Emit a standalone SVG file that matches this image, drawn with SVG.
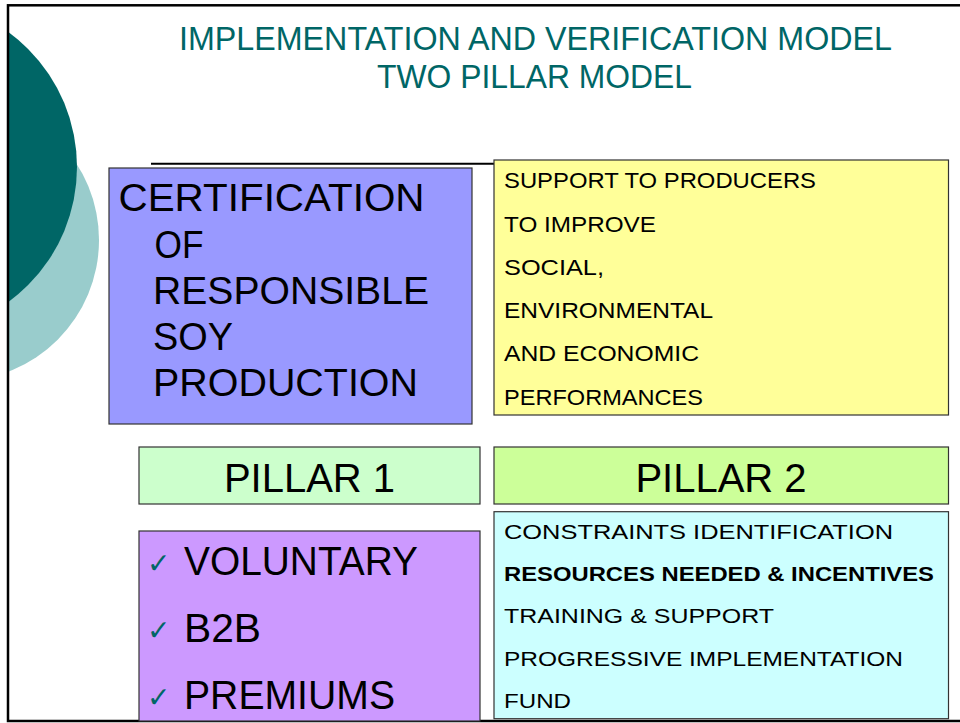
<svg xmlns="http://www.w3.org/2000/svg" width="960" height="723" viewBox="0 0 960 723">
  <style>
    .title { font-family: "Liberation Sans", Arial, sans-serif; font-size: 32.5px; fill: #006666; }
    .box { stroke: #333333; stroke-width: 1.2; }
    .big { font-family: "Liberation Sans", Arial, sans-serif; font-size: 39px; fill: #000000; }
    .pill { font-family: "Liberation Sans", Arial, sans-serif; font-size: 40px; fill: #000000; }
    .small { font-family: "Liberation Sans", Arial, sans-serif; font-size: 21.5px; fill: #000000; }
    .bold { font-weight: bold; }
    .check { font-family: "DejaVu Sans", sans-serif; font-size: 28px; fill: #006666; }
  </style>
  <defs>
    <clipPath id="slideArea">
      <rect x="9" y="6" width="960" height="714"/>
    </clipPath>
  </defs>

  <rect x="0" y="0" width="960" height="723" fill="#ffffff"/>

  <!-- decorative circles at the left edge -->
  <g clip-path="url(#slideArea)">
    <circle cx="-42" cy="240" r="141" fill="#99CCCC"/>
    <circle cx="-90" cy="167" r="167" fill="#006666"/>
  </g>

  <!-- slide frame -->
  <rect x="8" y="5.3" width="1000" height="715.7" fill="none" stroke="#000000" stroke-width="2.5"/>

  <!-- title -->
  <g id="title">
    <text class="title" x="179" y="49.5" textLength="713" lengthAdjust="spacingAndGlyphs">IMPLEMENTATION AND VERIFICATION MODEL</text>
    <text class="title" x="377" y="88" textLength="315" lengthAdjust="spacingAndGlyphs">TWO PILLAR MODEL</text>
  </g>

  <g id="connectors">
    <line x1="151" y1="163.8" x2="494" y2="163.8" stroke="#000000" stroke-width="2"/>
  </g>

  <!-- certification block -->
  <g id="certification">
    <rect class="box" x="109" y="168" width="363" height="256" fill="#9999FF"/>
    <text class="big" x="118.5" y="211" textLength="306" lengthAdjust="spacingAndGlyphs">CERTIFICATION</text>
    <text class="big" x="154.5" y="258" textLength="49" lengthAdjust="spacingAndGlyphs">OF</text>
    <text class="big" x="153" y="303.5" textLength="276" lengthAdjust="spacingAndGlyphs">RESPONSIBLE</text>
    <text class="big" x="153" y="350" textLength="80" lengthAdjust="spacingAndGlyphs">SOY</text>
    <text class="big" x="153" y="396" textLength="265" lengthAdjust="spacingAndGlyphs">PRODUCTION</text>
  </g>

  <!-- producer support block -->
  <g id="support">
    <rect class="box" x="494" y="160" width="454.5" height="255" fill="#FFFF99"/>
    <text class="small" x="504" y="188" textLength="312" lengthAdjust="spacingAndGlyphs">SUPPORT TO PRODUCERS</text>
    <text class="small" x="504" y="231.5" textLength="152" lengthAdjust="spacingAndGlyphs">TO IMPROVE</text>
    <text class="small" x="504" y="275" textLength="100" lengthAdjust="spacingAndGlyphs">SOCIAL,</text>
    <text class="small" x="504" y="318" textLength="209" lengthAdjust="spacingAndGlyphs">ENVIRONMENTAL</text>
    <text class="small" x="504" y="361" textLength="195" lengthAdjust="spacingAndGlyphs">AND ECONOMIC</text>
    <text class="small" x="504" y="404.5" textLength="199" lengthAdjust="spacingAndGlyphs">PERFORMANCES</text>
  </g>

  <!-- pillar headers -->
  <g id="pillar1">
    <rect class="box" x="139" y="447" width="341" height="57" fill="#CCFFCC"/>
    <text class="pill" x="309.5" y="492" text-anchor="middle">PILLAR 1</text>
  </g>
  <g id="pillar2">
    <rect class="box" x="494" y="447" width="454.5" height="57" fill="#CCFF99"/>
    <text class="pill" x="721" y="492" text-anchor="middle">PILLAR 2</text>
  </g>

  <!-- pillar 1 details -->
  <g id="pillar1-items">
    <rect class="box" x="139" y="531" width="341" height="190" fill="#CC99FF"/>
    <text class="check" x="147" y="573">✓</text>
    <text class="big" x="184" y="574.5" textLength="234" lengthAdjust="spacingAndGlyphs" style="font-size:40px">VOLUNTARY</text>
    <text class="check" x="147" y="640">✓</text>
    <text class="big" x="184" y="641.5" textLength="77" lengthAdjust="spacingAndGlyphs" style="font-size:40px">B2B</text>
    <text class="check" x="147" y="707">✓</text>
    <text class="big" x="184" y="708.5" textLength="211" lengthAdjust="spacingAndGlyphs" style="font-size:40px">PREMIUMS</text>
  </g>

  <!-- pillar 2 details -->
  <g id="pillar2-items">
    <rect class="box" x="494" y="511.7" width="454.5" height="207" fill="#CCFFFF"/>
    <text class="small" x="504" y="539" textLength="389" lengthAdjust="spacingAndGlyphs" style="font-size:21px">CONSTRAINTS IDENTIFICATION</text>
    <text class="small bold" x="504" y="581" textLength="430" lengthAdjust="spacingAndGlyphs" style="font-size:21px">RESOURCES NEEDED &amp; INCENTIVES</text>
    <text class="small" x="504" y="623.3" textLength="270" lengthAdjust="spacingAndGlyphs" style="font-size:21px">TRAINING &amp; SUPPORT</text>
    <text class="small" x="504" y="665.7" textLength="399" lengthAdjust="spacingAndGlyphs" style="font-size:21px">PROGRESSIVE IMPLEMENTATION</text>
    <text class="small" x="504" y="707.5" textLength="67" lengthAdjust="spacingAndGlyphs" style="font-size:21px">FUND</text>
  </g>
</svg>
